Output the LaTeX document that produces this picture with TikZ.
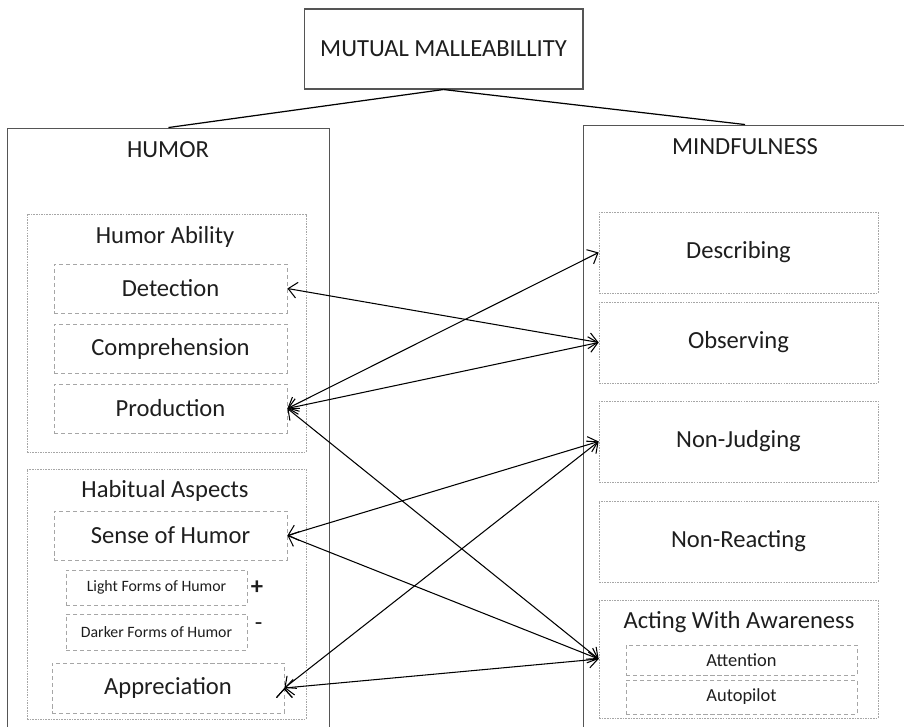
\documentclass[tikz,border=0pt]{standalone}
\usepackage{fontspec}
\setmainfont{Carlito}
\usepackage{xcolor}
\usepackage{tikz}
\usetikzlibrary{arrows.meta, positioning}

\definecolor{framegray}{HTML}{555555}
\definecolor{softgray}{HTML}{A6A6A6}
\definecolor{inkgray}{HTML}{1E1E1E}

\begin{document}
\begin{tikzpicture}[x=0.02cm, y=-0.02cm, on grid,
    every node/.style={text=inkgray, inner sep=0pt},
    big/.style={font=\fontsize{14}{16}\selectfont},
    panel/.style={draw=framegray, line width=0.6pt, rectangle},
    group/.style={draw=softgray, line width=0.45pt, dash pattern=on 0.9pt off 0.6pt, rectangle},
    item/.style={draw=softgray, line width=0.5pt, dash pattern=on 2.4pt off 1.6pt, rectangle, big},
    smallitem/.style={item, font=\fontsize{9}{11}\selectfont, minimum width=3.62cm},
    subitem/.style={item, font=\fontsize{10.5}{12}\selectfont, minimum width=4.62cm},
    tie/.style={draw=black, line width=0.7pt},
    link/.style={draw=black, line width=0.6pt, {Straight Barb[length=5pt, width=9pt]}-{Straight Barb[length=5pt, width=9pt]}}]

        \clip (0,0) rectangle (904,727);

        % top
        \node[panel, big, minimum width=5.58cm, minimum height=1.6cm] (mm) at (443.5,49) {MUTUAL MALLEABILLITY};

        \node[panel, minimum width=6.46cm, minimum height=12.64cm] (humor) at (168.5,444) {};
        \node[panel, minimum width=6.48cm, minimum height=12.7cm] (mindful) at (745,442.5) {};
        \node[big] (humortitle) at (168,150) {HUMOR};
        \node[big] (mindfultitle) at (745,147) {MINDFULNESS};

        \draw[tie] (mm.south) -- (humor.north);
        \draw[tie] (mm.south) -- (mindful.north);

        % humor side
        \node[group, minimum width=5.58cm, minimum height=4.76cm] (ability) at (166.5,333) {};
        \node[big] (abilitytitle) at (165,237) {Humor Ability};
        \node[item, minimum width=4.66cm, minimum height=0.98cm] (detection) at (170.5,288.5) {Detection};
        \node[item, minimum width=4.66cm, minimum height=0.98cm, below=1.2cm of detection] (comprehension) {Comprehension};
        \node[item, minimum width=4.66cm, minimum height=0.98cm, below=1.2cm of comprehension] (production) {Production};

        \node[group, minimum width=5.58cm, minimum height=5cm] (habitual) at (166.5,594) {};
        \node[big] (habitualtitle) at (165,491) {Habitual Aspects};
        \node[item, minimum width=4.66cm, minimum height=0.98cm] (sense) at (170.5,535.5) {Sense of Humor};
        \node[smallitem, minimum height=0.7cm] (light) at (156.5,587.5) {Light Forms of Humor};
        \node[smallitem, minimum height=0.72cm, below=0.89cm of light] (darker) {Darker Forms of Humor};
        \node[big, right=0.06cm of light.east, anchor=west] (plus) {\textbf{+}};
        \node[big, right=0.14cm of darker.east, anchor=west, yshift=3pt] (minus) {-};
        \node[item, minimum width=4.64cm, minimum height=1cm] (appreciation) at (168,688) {Appreciation};

        % mindfulness side
        \node[item, group, minimum width=5.58cm, minimum height=1.62cm] (describing) at (738.5,252.5) {Describing};
        \node[item, group, minimum width=5.58cm, minimum height=1.62cm, below=1.8cm of describing] (observing) {Observing};
        \node[item, group, minimum width=5.58cm, minimum height=1.62cm, below=1.98cm of observing] (nonjudging) {Non-Judging};
        \node[item, group, minimum width=5.58cm, minimum height=1.62cm, below=2cm of nonjudging] (nonreacting) {Non-Reacting};

        \node[group, minimum width=5.58cm, minimum height=2.36cm] (acting) at (738.5,659) {};
        \node[big] (actingtitle) at (739,622) {Acting With Awareness};
        \node[subitem, minimum height=0.6cm] (attention) at (741.5,660) {Attention};
        \node[subitem, minimum height=0.68cm, below=0.74cm of attention] (autopilot) {Autopilot};

        % links
        \path[link]
        (detection.east) edge (observing.west)
        (production.east) edge (describing.west)
                          edge (observing.west)
                          edge (acting.west)
        (sense.east) edge (nonjudging.west)
                     edge (acting.west)
        (appreciation.east) edge (nonjudging.west)
                            edge (acting.west);

    \end{tikzpicture}
\end{document}
